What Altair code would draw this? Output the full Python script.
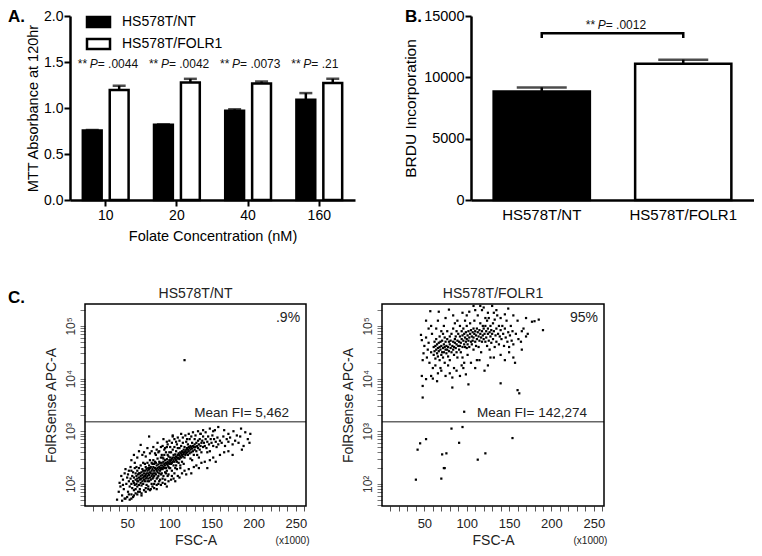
import altair as alt
import pandas as pd

FONT = "Liberation Sans"

# ---------------- Panel A data ----------------
conc = ["10", "20", "40", "160"]
groups = ["HS578T/NT", "HS578T/FOLR1"]
mtt_nt = [0.755, 0.817, 0.970, 1.090]
mtt_nt_err = [0.006, 0.005, 0.016, 0.072]
mtt_fr = [1.197, 1.277, 1.266, 1.273]
mtt_fr_err = [0.045, 0.040, 0.022, 0.045]
p_labels_a = ["= .0044", "= .0042", "= .0073", "= .21"]

# ---------------- Panel B data ----------------
brdu = [8850, 11100]
brdu_err = [330, 340]
bracket_x = ["HS578T/NT", "HS578T/NT", "HS578T/FOLR1", "HS578T/FOLR1"]
bracket_y = [13200, 13600, 13600, 13200]
p_label_b = "= .0012"

# ---------------- Panel C data (FSC x1000, log10 FolRSense) ----------------
nt_points = [
    (38,1.7),(40,1.85),(41,2.02),(42,1.95),(43,2.15),(44,1.78),(45,2.08),(46,1.9),(47,2.2),(48,1.72),(49,2.0),(50,2.12),(45,1.98),(48,2.28),
    (51,1.85),(52,2.05),(52,2.25),(53,1.95),(54,2.1),(54,2.32),(55,1.8),(55,2.0),(56,2.15),(56,1.92),(57,2.22),(57,2.05),(58,1.88),(58,2.12),
    (59,2.3),(59,1.98),(60,2.08),(60,2.2),(53,1.7),(57,1.75),(59,2.4),(51,2.18),(55,2.25),(58,2.02),(60,1.9),
    (61,2.0),(61,2.15),(62,2.1),(62,1.95),(62,2.25),(63,2.05),(63,2.18),(64,2.12),(64,1.98),(64,2.3),(65,2.08),(65,2.2),(65,1.9),(66,2.15),
    (66,2.02),(66,2.35),(67,2.1),(67,2.22),(67,1.97),(68,2.17),(68,2.05),(68,2.28),(69,2.12),(69,2.0),(69,2.4),(70,2.2),(70,2.08),(70,2.14),
    (63,1.85),(67,1.82),(61,2.32),(69,2.25),(66,2.1),(64,2.2),(62,2.05),
    (71,2.15),(71,2.25),(71,2.05),(72,2.18),(72,2.1),(72,2.32),(73,2.2),(73,2.12),(73,1.98),(74,2.25),(74,2.15),(74,2.4),(75,2.1),(75,2.2),
    (75,2.3),(76,2.17),(76,2.05),(76,2.27),(77,2.22),(77,2.12),(77,2.45),(78,2.2),(78,2.08),(78,2.32),(79,2.25),(79,2.15),(79,2.0),(80,2.28),
    (80,2.18),(80,2.38),(72,1.92),(75,1.95),(78,1.9),(74,2.05),(76,2.35),(79,2.4),(71,2.38),(77,2.3),(73,2.28),(80,2.1),
    (81,2.2),(81,2.32),(81,2.12),(82,2.25),(82,2.38),(82,2.15),(83,2.3),(83,2.2),(83,2.05),(84,2.28),(84,2.4),(84,2.18),(85,2.35),(85,2.25),
    (85,2.1),(86,2.3),(86,2.22),(86,2.48),(87,2.27),(87,2.37),(87,2.15),(88,2.32),(88,2.2),(88,2.42),(89,2.3),(89,2.25),(89,2.08),(90,2.35),
    (90,2.28),(90,2.5),(82,2.0),(85,1.98),(88,2.05),(84,2.55),(87,2.6),(89,2.4),(81,2.45),(86,2.12),(90,2.18),(83,2.42),
    (91,2.3),(91,2.4),(91,2.2),(92,2.35),(92,2.28),(92,2.5),(93,2.32),(93,2.42),(93,2.15),(94,2.38),(94,2.3),(94,2.55),(95,2.35),(95,2.45),
    (95,2.22),(96,2.4),(96,2.3),(96,2.6),(97,2.38),(97,2.47),(97,2.25),(98,2.42),(98,2.35),(98,2.55),(99,2.4),(99,2.32),(99,2.18),(100,2.45),
    (100,2.38),(100,2.6),(92,2.1),(95,2.08),(98,2.15),(94,2.65),(97,2.7),(99,2.52),(91,2.55),(96,2.2),(100,2.3),(93,2.48),
    (101,2.42),(101,2.5),(101,2.3),(102,2.45),(102,2.38),(102,2.6),(103,2.48),(103,2.4),(103,2.25),(104,2.5),(104,2.42),(104,2.65),(105,2.45),
    (105,2.55),(105,2.35),(106,2.5),(106,2.42),(106,2.7),(107,2.48),(107,2.56),(107,2.3),(108,2.52),(108,2.45),(108,2.62),(109,2.5),(109,2.42),
    (109,2.28),(110,2.55),(110,2.48),(110,2.68),(103,2.15),(106,2.2),(109,2.75),(104,2.9),(108,2.35),
    (111,2.5),(111,2.58),(111,2.4),(112,2.55),(112,2.47),(112,2.68),(113,2.52),(113,2.6),(113,2.35),(114,2.58),(114,2.5),(114,2.72),(115,2.55),
    (115,2.62),(115,2.42),(116,2.6),(116,2.52),(116,2.78),(117,2.57),(117,2.65),(118,2.6),(118,2.5),(118,2.7),(119,2.62),(119,2.55),(120,2.65),
    (120,2.58),(120,2.8),(113,2.3),(117,2.38),
    (121,2.6),(121,2.68),(122,2.65),(122,2.55),(122,2.75),(123,2.62),(123,2.7),(124,2.68),(124,2.58),(125,2.65),(125,2.72),(125,2.48),(126,2.7),
    (126,2.6),(127,2.67),(127,2.78),(128,2.72),(128,2.62),(129,2.7),(129,2.55),(130,2.75),(130,2.65),(124,2.85),(127,2.45),(130,2.85),
    (131,2.7),(132,2.62),(132,2.78),(133,2.72),(134,2.68),(134,2.82),(135,2.75),(136,2.65),(136,2.85),(137,2.72),(138,2.78),(138,2.6),(139,2.82),
    (140,2.7),(140,2.9),(133,2.55),(137,2.95),(135,2.5),
    (141,2.78),(142,2.72),(143,2.85),(144,2.68),(145,2.8),(146,2.9),(147,2.75),(148,2.62),(149,2.85),(150,2.78),(151,2.92),(152,2.72),(153,2.85),
    (154,3.02),(155,2.8),(156,2.7),(157,2.88),(158,2.75),(160,2.82),(145,2.6),
    (162,2.78),(164,2.9),(166,2.72),(168,2.85),(170,2.8),(172,2.88),(175,2.75),(178,2.82),(182,2.78),(184,2.9),(186,2.65),(188,2.72),(190,2.98),
    (193,2.85),(196,2.95),(195,2.78),
    (55,2.45),(58,2.55),(62,2.5),(64,2.62),(66,2.74),(68,2.55),(70,2.6),(72,2.52),(74,2.68),(76,2.9),(77,2.58),(79,2.62),(81,2.7),(83,2.58),
    (85,2.65),(86,2.78),(88,2.62),(90,2.7),(92,2.72),(93,2.85),(95,2.68),(97,2.8),(98,2.75),(100,2.82),(101,2.7),(103,2.78),(104,2.92),
    (106,2.85),(108,2.8),(110,2.88),(112,2.82),(114,2.95),(116,2.88),(119,2.92),(121,2.85),(123,2.95),(126,2.9),(128,2.98),(131,2.92),
    (134,3.0),(137,2.95),(140,3.02),(143,2.98),(148,3.05),(152,3.0),(158,3.08),(165,3.02),(170,2.95),(176,3.0),(180,2.92),(185,3.05),
    (44,1.68),(47,1.72),(50,1.75),(52,1.8),(55,1.72),(58,1.78),(60,1.82),(62,1.8),(65,1.85),(67,1.78),(70,1.88),(72,1.85),(75,1.9),(77,1.88),
    (80,1.95),(82,1.92),(85,1.9),(87,2.0),(90,1.98),(92,2.02),(95,2.0),(97,1.95),(99,2.05),(102,2.08),(105,2.1),(107,2.05),(110,2.15),
    (112,2.12),(115,2.2),(118,2.25),(120,2.18),(123,2.28),(126,2.2),(129,2.32),(132,2.35),(135,2.3),(138,2.4),(142,2.42),(145,2.3),
    (148,2.45),(152,2.5),(155,2.42),(160,2.55),(165,2.6),(170,2.62),(175,2.55),
    (118,4.35),
]

fr_points = [
    (46,4.83),(47,4.73),(49,4.48),(48,4.35),(47,4.05),(48,3.86),(48,3.64),(52,3.99),(57,5.28),(50,4.62),(52,4.78),(54,4.55),(53,4.4),(55,4.68),
    (56,4.3),(58,4.5),(59,4.85),(55,4.95),(60,4.2),(58,4.05),
    (61,4.6),(61,4.45),(62,4.7),(62,4.52),(63,4.38),(63,4.62),(64,4.55),(64,4.75),(65,4.48),(65,4.65),(66,4.42),(66,4.58),(66,4.1),(67,4.68),
    (67,4.52),(67,5.27),(68,4.6),(68,4.35),(68,4.8),(69,4.55),(69,4.7),(70,4.45),(70,4.62),(70,4.9),(71,4.5),(71,4.72),(72,4.58),(72,4.4),
    (72,4.85),(73,4.65),(73,4.5),(74,4.6),(74,4.78),(74,4.3),(75,4.55),(75,4.7),(63,4.25),(69,4.2),(64,4.95),(73,5.0),
    (76,4.62),(76,4.48),(77,4.75),(77,4.55),(77,4.9),(78,4.6),(78,4.42),(79,4.7),(79,4.52),(79,5.31),(80,4.65),(80,4.8),(80,4.35),(81,4.58),
    (81,4.72),(82,4.5),(82,4.85),(83,4.62),(83,4.02),(83,3.83),(84,4.7),(84,4.55),(84,4.95),(85,4.6),(85,4.45),(86,4.75),(86,4.68),(86,5.05),
    (87,4.58),(87,4.8),(88,4.65),(88,4.5),(88,4.9),(89,4.72),(89,4.4),(90,4.62),(90,4.85),(78,4.25),(85,4.2),(89,5.1),
    (91,4.7),(91,4.55),(92,4.8),(92,4.62),(92,5.0),(93,4.68),(93,4.5),(94,4.75),(94,4.9),(95,4.6),(95,4.82),(95,4.4),(96,4.72),(96,4.95),
    (97,4.65),(97,4.85),(97,4.3),(98,4.78),(98,4.6),(98,5.1),(99,4.7),(99,4.08),(99,4.88),(100,4.75),(100,4.58),(100,5.0),(101,4.82),(101,4.65),
    (102,4.9),(102,4.72),(102,3.89),(103,5.27),(103,4.78),(103,4.6),(104,4.85),(104,5.05),(105,4.7),(105,4.92),(94,4.25),(101,4.45),
    (106,4.8),(106,4.65),(107,4.88),(107,4.72),(108,4.95),(108,4.78),(108,4.55),(109,4.85),(109,5.1),(110,4.7),(110,4.9),(111,4.82),(111,4.62),
    (112,4.95),(112,4.75),(113,4.88),(113,5.2),(114,4.8),(114,4.6),(115,4.92),(115,4.72),(116,5.38),(116,4.85),(116,5.05),(117,4.78),(117,4.5),
    (118,4.9),(118,4.7),(119,5.0),(119,4.82),(120,4.75),(120,4.95),(121,4.15),(112,4.35),(118,5.3),
    (121,4.85),(122,4.7),(122,5.0),(123,4.9),(123,4.78),(124,5.1),(124,4.62),(125,4.85),(125,4.95),(126,4.72),(126,5.15),(127,4.88),(127,4.55),
    (128,5.0),(128,4.8),(129,4.92),(129,4.68),(130,5.38),(130,4.85),(131,5.05),(131,4.75),(132,4.9),(133,4.6),(133,5.12),(134,4.82),(135,4.95),
    (135,4.7),(136,5.2),(137,4.85),(138,4.65),(138,5.0),(139,4.8),(140,3.91),(140,4.92),(128,4.4),
    (141,4.75),(142,5.0),(143,4.85),(144,4.62),(145,4.95),(146,4.78),(147,5.1),(148,4.7),(149,5.33),(149,4.88),(150,4.6),(151,4.82),(152,5.0),
    (153,4.72),(154,4.9),(155,4.65),(157,4.3),(158,4.85),(160,3.78),(161,4.75),(164,4.7),(165,4.9),(167,4.95),(170,4.8),(172,4.85),(177,5.08),
    (180,5.09),(185,5.12),(190,4.92),(162,3.72),
    (60,4.0),(65,3.95),(70,4.15),(75,4.05),(80,4.1),(88,4.15),(92,4.05),(96,4.2),(105,4.3),(110,4.2),(115,4.35),(125,4.25),(132,4.4),(140,4.45),
    (145,4.35),(150,4.5),(155,4.4),(165,4.55),(100,5.2),(95,5.25),(110,5.3),(120,5.35),(125,5.25),(135,5.3),(140,5.15),(145,5.22),(155,5.2),
    (160,5.1),(170,5.15),(84,5.2),(75,5.15),(66,5.1),(58,5.0),(52,5.1),(108,5.38),(122,5.15),(132,5.25),
    (42,2.65),(45,2.77),(52,2.85),(40,2.08),(71,2.56),(76,2.58),(73,2.3),(74,2.3),(70,2.1),(82,3.05),(91,2.78),(95,3.08),(113,2.46),
    (122,2.58),(154,2.87),(97,3.37),
]

gate_fl = 1510
c_titles = ["HS578T/NT", "HS578T/FOLR1"]
c_pct = [".9%", "95%"]
c_mean = ["Mean FI= 5,462", "Mean FI= 142,274"]

# ---------------- tables ----------------
dfA = pd.DataFrame({
    "conc": conc * 2,
    "group": [groups[0]] * 4 + [groups[1]] * 4,
    "value": mtt_nt + mtt_fr,
    "err": mtt_nt_err + mtt_fr_err,
})
dfA["upper"] = dfA["value"] + dfA["err"]
dfPA = pd.DataFrame({"conc": conc, "plabel": p_labels_a})

dfB = pd.DataFrame({"group": groups, "value": brdu, "err": brdu_err})
dfB["upper"] = dfB["value"] + dfB["err"]
dfBr = pd.DataFrame({"group": bracket_x, "y": bracket_y, "ord": list(range(4))})

dfNT = pd.DataFrame(nt_points, columns=["fsc", "lfl"])
dfFR = pd.DataFrame(fr_points, columns=["fsc", "lfl"])

HA = 184  # top-row plot height

# ---------------- Panel A ----------------
xA = alt.Scale(domain=conc, paddingInner=0.357, paddingOuter=0.18)
yA = alt.Scale(domain=[0, 2], nice=False)
xoA = alt.Scale(domain=groups, paddingInner=0.3, paddingOuter=0)
fillA = alt.Scale(domain=groups, range=["black", "white"])

axA_y = alt.Axis(values=[0, 0.5, 1, 1.5, 2], format=".1f",
                 title="MTT Absorbance at 120hr", titleFontSize=14.5, titleFontWeight="normal",
                 titleColor="black", labelFontSize=14, labelColor="black", domainColor="black",
                 domainWidth=2.5, tickColor="black", tickWidth=2, tickSize=6, grid=False,
                 labelPadding=1, titlePadding=3)
axA_x = alt.Axis(title="Folate Concentration (nM)", labelAngle=0,
                 titleFontSize=14.5, titleFontWeight="normal", titleColor="black",
                 labelFontSize=14, labelColor="black", domainColor="black", domainWidth=2.5,
                 tickColor="black", tickWidth=2, tickSize=6, labelPadding=2, titlePadding=7, grid=False)

legA = alt.Legend(title=None, orient="none", legendX=17, legendY=-5.5,
                  symbolType="M-1.15,-0.5H1.15V0.5H-1.15Z", symbolSize=400,
                  symbolStrokeColor="black", symbolStrokeWidth=2.5, symbolOpacity=1,
                  labelFontSize=14, labelFont=FONT, labelColor="black", labelOffset=12,
                  rowPadding=0, padding=0)


def XA():
    return alt.X("conc:N", scale=xA, axis=axA_x, sort=None)


def XOA():
    return alt.XOffset("group:N", scale=xoA, sort=None)


barsA = alt.Chart(dfA).mark_bar(stroke="black", strokeWidth=2.5).encode(
    x=XA(), xOffset=XOA(),
    y=alt.Y("value:Q", scale=yA, axis=axA_y),
    fill=alt.Fill("group:N", scale=fillA, legend=legA),
)
errA = alt.Chart(dfA).mark_rule(color="black", strokeWidth=2.5).encode(
    x=XA(), xOffset=XOA(),
    y=alt.Y("value:Q", scale=yA, axis=axA_y),
    y2="upper:Q",
)
capA = alt.Chart(dfA).mark_tick(color="black", thickness=2.5, size=13, orient="horizontal").encode(
    x=XA(), xOffset=XOA(),
    y=alt.Y("upper:Q", scale=yA, axis=axA_y),
)
P_Y_A = 1.48
pA1 = alt.Chart(dfPA).mark_text(text="**", align="left", baseline="middle", dx=-28, fontSize=12, color="#111").encode(
    x=XA(), y=alt.YDatum(P_Y_A, scale=yA, axis=axA_y))
pA2 = alt.Chart(dfPA).mark_text(text="P", align="left", baseline="middle", dx=-16, fontSize=12,
                                fontStyle="italic", color="#111").encode(
    x=XA(), y=alt.YDatum(P_Y_A, scale=yA, axis=axA_y))
pA3 = alt.Chart(dfPA).mark_text(align="left", baseline="middle", dx=-8, fontSize=12, color="#111").encode(
    x=XA(), y=alt.YDatum(P_Y_A, scale=yA, axis=axA_y), text="plabel:N")
letA = alt.Chart(dfPA.head(1)).mark_text(text="A.", align="left", baseline="top", fontSize=17,
                                         fontWeight="bold", color="black").encode(x=alt.value(-62), y=alt.value(-7))

panelA = alt.layer(barsA, errA, capA, pA1, pA2, pA3, letA).properties(width=285, height=HA)

# ---------------- Panel B ----------------
xB = alt.Scale(domain=groups, paddingInner=0.32, paddingOuter=0.16)
yB = alt.Scale(domain=[0, 15000], nice=False)
axB_y = alt.Axis(values=[0, 5000, 10000, 15000], format="d",
                 title="BRDU Incorporation", titleFontSize=15.5, titleFontWeight="normal",
                 titleColor="black", labelFontSize=14.5, labelColor="black", domainColor="black",
                 domainWidth=2.5, tickColor="black", tickWidth=2, tickSize=6, grid=False,
                 labelPadding=1, titlePadding=5)
axB_x = alt.Axis(title=None, labelAngle=0, ticks=False,
                 labelFontSize=15, labelColor="black", domainColor="black", domainWidth=2.5,
                 labelPadding=7, grid=False)


def XB():
    return alt.X("group:N", scale=xB, axis=axB_x, sort=None)


barsB = alt.Chart(dfB).mark_bar(stroke="black", strokeWidth=2.5).encode(
    x=XB(),
    y=alt.Y("value:Q", scale=yB, axis=axB_y),
    fill=alt.condition(alt.datum.group == groups[0], alt.value("black"), alt.value("white")),
)
errB = alt.Chart(dfB).mark_rule(color="black", strokeWidth=2.5).encode(
    x=XB(), y=alt.Y("value:Q", scale=yB, axis=axB_y), y2="upper:Q")
capB = alt.Chart(dfB).mark_tick(color="black", thickness=2.5, size=50, orient="horizontal").encode(
    x=XB(), y=alt.Y("upper:Q", scale=yB, axis=axB_y))
bracketB = alt.Chart(dfBr).mark_line(color="black", strokeWidth=2.5).encode(
    x=XB(), y=alt.Y("y:Q", scale=yB, axis=axB_y), order="ord:Q")
P_Y_B = 14250
pB1 = alt.Chart(dfB.head(1)).mark_text(text="**", align="left", baseline="middle", dx=44, fontSize=12, color="#111").encode(
    x=XB(), y=alt.YDatum(P_Y_B, scale=yB, axis=axB_y))
pB2 = alt.Chart(dfB.head(1)).mark_text(text="P", align="left", baseline="middle", dx=56, fontSize=12,
                                       fontStyle="italic", color="#111").encode(
    x=XB(), y=alt.YDatum(P_Y_B, scale=yB, axis=axB_y))
pB3 = alt.Chart(dfB.head(1)).mark_text(text=p_label_b, align="left", baseline="middle", dx=64, fontSize=12, color="#111").encode(
    x=XB(), y=alt.YDatum(P_Y_B, scale=yB, axis=axB_y))
letB = alt.Chart(dfB.head(1)).mark_text(text="B.", align="left", baseline="top", fontSize=17,
                                        fontWeight="bold", color="black").encode(x=alt.value(-66), y=alt.value(-7))

panelB = alt.layer(barsB, errB, capB, bracketB, pB1, pB2, pB3, letB).properties(width=283, height=HA)

# ---------------- Panel C ----------------
HC = 202
Y_DOM = [38, 261000]
yvals = [40, 50, 60, 70, 80, 90] + [k * 10 ** e for e in (2, 3, 4) for k in range(1, 10)] + [100000, 200000]
label_expr_y = ("datum.value == 100 ? '10\u00b2' : datum.value == 1000 ? '10\u00b3' : "
                "datum.value == 10000 ? '10\u2074' : datum.value == 100000 ? '10\u2075' : ''")


def c_panel(df, width, title, pct, mean, letter=None):
    xs = alt.Scale(domain=[0, 262], nice=False, zero=False)
    ys = alt.Scale(type="log", domain=Y_DOM, nice=False)
    ax_x = alt.Axis(values=list(range(10, 261, 10)),
                    labelExpr="datum.value % 50 === 0 ? datum.label : ''",
                    tickSize=5, tickColor="#555", tickWidth=1, domain=False, labelFontSize=13,
                    labelColor="#222", labelOverlap=False, labelFlush=False, title="FSC-A",
                    titleFontSize=14, titleFontWeight="normal", titleColor="#222",
                    labelPadding=6, titlePadding=3, grid=False)
    ax_y = alt.Axis(values=yvals, labelExpr=label_expr_y,
                    tickSize=5, tickColor="#777", tickWidth=1, domain=False, labelFontSize=12,
                    labelColor="#333", labelAngle=270, labelAlign="center", labelBaseline="bottom",
                    labelOverlap=False, labelFlush=False, title="FolRSense APC-A", titleFontSize=14,
                    titleFontWeight="normal", titleColor="#222", labelPadding=3, titlePadding=6, grid=False)

    def XD(v):
        return alt.XDatum(v, scale=xs, axis=ax_x)

    def YD(v):
        return alt.YDatum(v, scale=ys, axis=ax_y)

    pts = alt.Chart(df).transform_calculate(fl="pow(10, datum.lfl)").mark_square(
        size=5, color="black", opacity=1, strokeWidth=0).encode(
        x=alt.X("fsc:Q", scale=xs, axis=ax_x),
        y=alt.Y("fl:Q", scale=ys, axis=ax_y))
    one = df.head(1)
    gate = alt.Chart(one).mark_rule(color="#666", strokeWidth=1.5).encode(
        x=XD(0), x2=alt.datum(262), y=YD(gate_fl))
    frame = alt.Chart(one).mark_rect(fillOpacity=0, stroke="black", strokeWidth=1.5).encode(
        x=XD(0), x2=alt.datum(262), y=YD(Y_DOM[0]), y2=alt.datum(Y_DOM[1]))
    t_title = alt.Chart(one).mark_text(text=title, align="center", baseline="middle",
                                       fontSize=14, color="#222").encode(
        x=XD(131), y=alt.value(-10))
    t_pct = alt.Chart(one).mark_text(text=pct, align="right", baseline="middle",
                                     fontSize=14, color="#222").encode(
        x=XD(255), y=YD(141000))
    t_mean = alt.Chart(one).mark_text(text=mean, align="right", baseline="middle",
                                      fontSize=13.5, color="#222").encode(
        x=XD(242), y=YD(2240))
    t_k = alt.Chart(one).mark_text(text="(x1000)", align="center", baseline="middle",
                                   fontSize=10, color="#222").encode(
        x=XD(246), y=alt.value(HC + 35))
    layers = [pts, gate, frame, t_title, t_pct, t_mean, t_k]
    if letter:
        layers.append(alt.Chart(one).mark_text(text=letter, align="left", baseline="middle",
                                               fontSize=17, fontWeight="bold", color="black").encode(
            x=alt.value(-77), y=alt.value(-6)))
    return alt.layer(*layers).properties(width=width, height=HC)


panelC1 = c_panel(dfNT, 221, c_titles[0], c_pct[0], c_mean[0], letter="C.")
panelC2 = c_panel(dfFR, 222, c_titles[1], c_pct[1], c_mean[1])

# narrow invisible spacer so the C row starts 15px to the right of panel A
spacer = alt.Chart(dfNT.head(1)).mark_point(opacity=0).encode(
    x=alt.value(0), y=alt.value(0)).properties(width=1, height=HC)

row1 = alt.hconcat(panelA, panelB, spacing=116, bounds="flush").resolve_scale(fill="independent")
row2 = alt.HConcatChart(hconcat=[spacer, alt.hconcat(panelC1, panelC2, spacing=76, bounds="flush")],
                        spacing=14, bounds="flush")

chart = alt.vconcat(row1, row2, spacing=44).resolve_scale(fill="independent").properties(
    padding=0, background="white").configure(font=FONT, view={"strokeWidth": 0})

chart.save("out.html", embed_options={"renderer": "svg", "actions": False})
